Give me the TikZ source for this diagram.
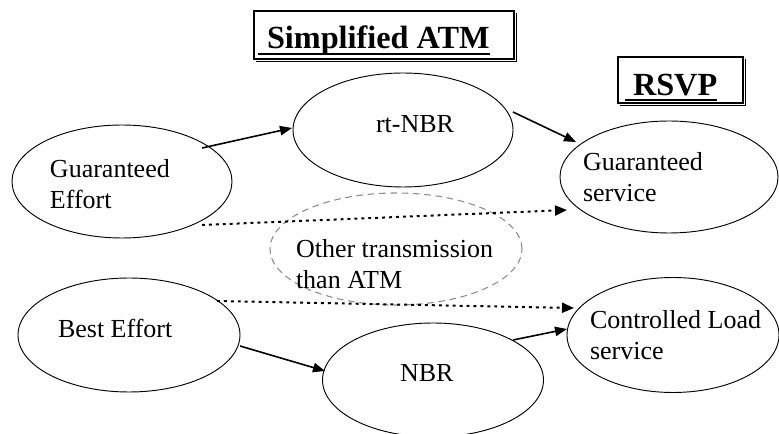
\documentclass[tikz,border=0pt]{standalone}
\usepackage{fontspec}
\setmainfont{Liberation Serif}
\usetikzlibrary{arrows.meta,shapes.geometric,calc}
\begin{document}
\begin{tikzpicture}[x=0.75pt,y=-0.75pt,
  servicebox/.style={draw,ellipse,line width=0.7pt,inner sep=0pt,outer sep=0pt},
  othercloud/.style={draw=black!45,ellipse,line width=0.8pt,dash pattern=on 5pt off 3.5pt,inner sep=0pt,outer sep=0pt},
  txt/.style={anchor=base west,inner sep=0pt,outer sep=0pt,align=left,font=\fontsize{19.5}{23.25}\selectfont},
  titlebox/.style={draw,rectangle,line width=1.1pt,inner sep=0pt},
  titletext/.style={anchor=base west,inner sep=0pt,outer sep=0pt,font=\fontsize{24.2}{28}\selectfont\bfseries},
  flow/.style={line width=1.2pt,-{Triangle[length=9pt,width=7pt]}},
  bypass/.style={line width=1.5pt,dash pattern=on 2.2pt off 3pt,-{Triangle[length=9pt,width=7.5pt]}}
]
\useasboundingbox (0,0) rectangle (779,434);

% framed headings
\node[titlebox,minimum width=195pt,minimum height=36pt] (atmbox) at (384,35) {};
\draw[line width=1pt] ($(atmbox.north east)+(2,3)$) -- ($(atmbox.south east)+(2,2)$) -- ($(atmbox.south west)+(3,2)$);
\node[titletext] (atmtitle) at (267,49) {Simplified ATM};
\draw[line width=1.5pt] ($(atmtitle.base west)+(-9,5)$) -- ($(atmtitle.base east)+(0,5)$);

\node[titlebox,minimum width=93.75pt,minimum height=34.5pt] (rsvpbox) at (680.5,80) {};
\draw[line width=1pt] ($(rsvpbox.north east)+(2,3)$) -- ($(rsvpbox.south east)+(2,2)$) -- ($(rsvpbox.south west)+(3,2)$);
\node[titletext] (rsvptitle) at (633,96) {RSVP};
\draw[line width=1.5pt] ($(rsvptitle.base west)+(-8,4)$) -- ($(rsvptitle.base east)+(0,4)$);

% service classes (two-line labels are placed by their last baseline)
\node[servicebox,minimum width=165pt,minimum height=84.75pt] (ge) at (122,181.5) {};
\node[txt] (getext) at (50,209) {Guaranteed\\Effort};
\node[servicebox,minimum width=165pt,minimum height=85.5pt] (rt) at (403,130) {};
\node[txt] (rttext) at (376,133) {rt-NBR};
\node[servicebox,minimum width=163.5pt,minimum height=84pt] (gs) at (669,177) {};
\node[txt] (gstext) at (583,202) {Guaranteed\\service};
\node[othercloud,minimum width=189pt,minimum height=84pt] (other) at (396,249) {};
\node[txt] (othertext) at (296,289) {Other transmission\\than ATM};
\node[servicebox,minimum width=166.5pt,minimum height=85.5pt] (be) at (129,335) {};
\node[txt] (betext) at (58,338) {Best Effort};
\node[servicebox,minimum width=165.75pt,minimum height=85.5pt] (nbr) at (433,380) {};
\node[txt] (nbrtext) at (400,382) {NBR};
\node[servicebox,minimum width=159pt,minimum height=86.25pt] (cl) at (673,335) {};
\node[txt] (cltext) at (590,360) {Controlled Load\\service};

% mappings
\draw[flow] ($(ge)+(80,-33.5)$) -- ($(rt)+(-111,-2)$);
\draw[flow] ($(rt)+(110,-18)$) -- ($(gs)+(-93,-35)$);
\draw[bypass] ($(ge)+(80,43.5)$) -- ($(gs)+(-102,33)$);
\draw[bypass] ($(be)+(88,-34)$) -- ($(cl)+(-99,-27)$);
\draw[flow] ($(be)+(111,11)$) -- ($(nbr)+(-108,-9)$);
\draw[flow] ($(nbr)+(80,-40)$) -- ($(cl)+(-106,-6)$);
\end{tikzpicture}
\end{document}
